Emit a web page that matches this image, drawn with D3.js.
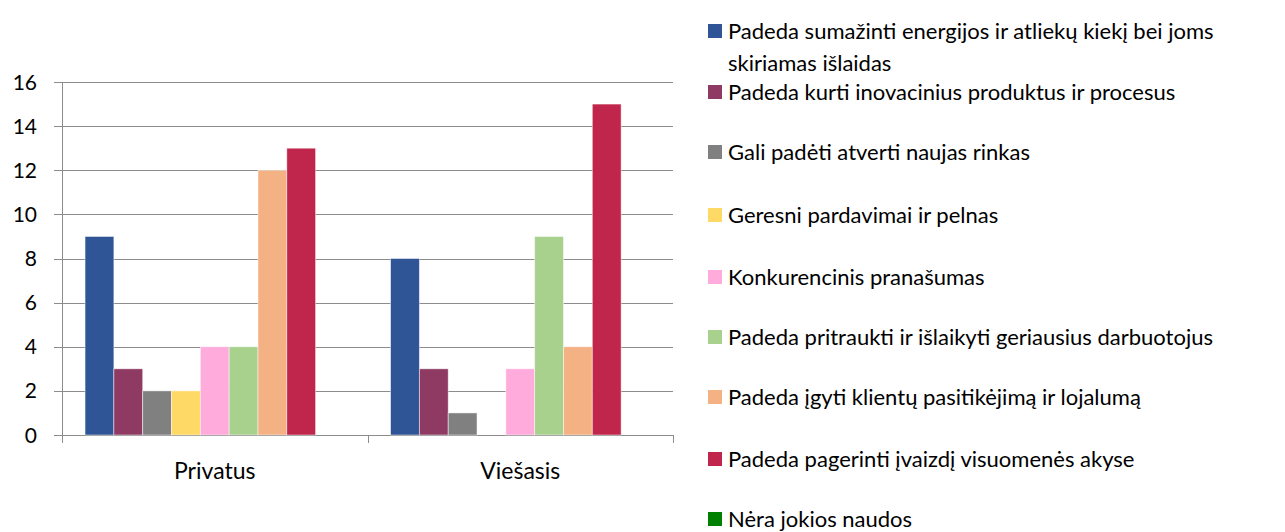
<!DOCTYPE html>
<html><head><meta charset="utf-8">
<script src="https://cdn.jsdelivr.net/npm/d3@7"></script>
<style>body{margin:0;background:#fff}svg{display:block}text{font-family:Lato,"Open Sans",sans-serif;fill:#000}</style>
</head><body><svg id="c" width="1285" height="532"></svg>
<script>
const categories = ["Privatus", "Viešasis"];
const seriesNames = [
  "Padeda sumažinti energijos ir atliekų kiekį bei joms skiriamas išlaidas",
  "Padeda kurti inovacinius produktus ir procesus",
  "Gali padėti atverti naujas rinkas",
  "Geresni pardavimai ir pelnas",
  "Konkurencinis pranašumas",
  "Padeda pritraukti ir išlaikyti geriausius darbuotojus",
  "Padeda įgyti klientų pasitikėjimą ir lojalumą",
  "Padeda pagerinti įvaizdį visuomenės akyse",
  "Nėra jokios naudos"
];
const privatusValues = [9, 3, 2, 2, 4, 4, 12, 13, 0];
const viesasisValues = [8, 3, 1, 0, 3, 9, 4, 15, 0];
const colors = ["#2F5597", "#8E3A63", "#808080", "#FFD966", "#FFABDB", "#A9D18E", "#F4B183", "#C0264C", "#008000"];
const yTicks = [0, 2, 4, 6, 8, 10, 12, 14, 16];

(function () {
const svg = d3.select("#c");
const mLeft = 62, mRight = 673, mTop = 82, mBottom = 435;
const x0 = d3.scaleBand().domain(categories).range([mLeft, mRight]).paddingInner(0).paddingOuter(0);
const x1 = d3.scaleBand().domain(d3.range(seriesNames.length)).range([0, x0.bandwidth()]).paddingInner(0).paddingOuter(0.8);
const y = d3.scaleLinear().domain([0, 16]).range([mBottom, mTop]);

svg.append("g").selectAll("line").data(yTicks).join("line")
  .attr("x1", mLeft - 8).attr("x2", mRight).attr("y1", d => Math.round(y(d)) + 0.5).attr("y2", d => Math.round(y(d)) + 0.5)
  .attr("stroke", "#8c8c8c").attr("stroke-width", 1);

svg.append("g").selectAll("text").data(yTicks).join("text")
  .attr("x", 37).attr("y", d => y(d)).attr("dy", "0.36em").attr("text-anchor", "end")
  .style("font-size", "21px").text(d => d);

svg.append("line").attr("x1", mLeft + 0.5).attr("x2", mLeft + 0.5).attr("y1", mTop).attr("y2", mBottom)
  .attr("stroke", "#8c8c8c");
const bounds = [mLeft, x0("Viešasis"), mRight];
svg.append("g").selectAll("line").data(bounds).join("line")
  .attr("x1", d => Math.round(d) + 0.5).attr("x2", d => Math.round(d) + 0.5).attr("y1", mBottom).attr("y2", mBottom + 8)
  .attr("stroke", "#8c8c8c");

const data = [privatusValues, viesasisValues];
const groups = svg.append("g").selectAll("g").data(categories).join("g")
  .attr("transform", d => `translate(${x0(d)},0)`);
groups.selectAll("rect").data((c, i) => data[i].map((v, j) => ({v, j}))).join("rect")
  .attr("x", d => x1(d.j)).attr("width", x1.bandwidth())
  .attr("y", d => y(d.v)).attr("height", d => y(0) - y(d.v))
  .attr("fill", d => colors[d.j]).attr("stroke", "rgba(255,255,255,0.6)").attr("stroke-width", 0.8);

svg.append("g").selectAll("text").data(categories).join("text")
  .attr("x", d => x0(d) + x0.bandwidth() / 2).attr("y", 471).attr("dy", "0.35em")
  .attr("text-anchor", "middle").style("font-size", "23px").text(d => d);

const legendY = [31, 92, 152, 215, 277, 337, 397, 459, 519];
const lg = svg.append("g").selectAll("g").data(seriesNames).join("g")
  .attr("transform", (d, i) => `translate(708,${legendY[i]})`);
lg.append("rect").attr("x", 0).attr("y", -7).attr("width", 14).attr("height", 14).attr("fill", (d, i) => colors[i]);
lg.append("text").attr("x", 20).style("font-size", "22px").each(function (d) {
  const t = d3.select(this);
  const words = d.split(" ");
  let line = [], lines = [];
  const tmp = t.append("tspan");
  words.forEach(w => {
    line.push(w);
    tmp.text(line.join(" "));
    if (tmp.node().getComputedTextLength() > 556 && line.length > 1) {
      line.pop(); lines.push(line.join(" ")); line = [w];
    }
  });
  lines.push(line.join(" "));
  tmp.remove();
  lines.forEach((l, k) => t.append("tspan").attr("x", 20).attr("y", k * 32).attr("dy", "0.35em").text(l));
});
})();
</script></body></html>
